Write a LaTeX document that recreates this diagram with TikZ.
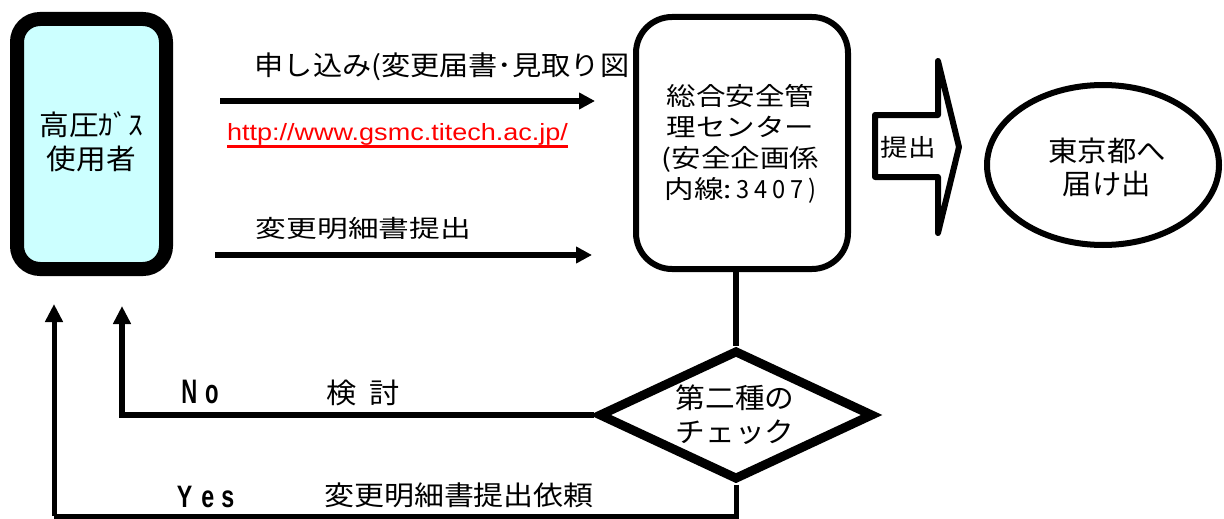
\documentclass[tikz,border=0pt]{standalone}
\usepackage{fontspec}
\setmainfont{Noto Sans CJK JP}
\newfontfamily\latinfont{Liberation Sans}
\usepackage{graphicx}
\usetikzlibrary{arrows.meta,shapes.geometric}
\definecolor{usercyan}{RGB}{204,255,255}
\newcommand\hsx[2]{\scalebox{#1}[1]{\begin{tabular}[t]{@{}c@{}}#2\end{tabular}}}
\newcommand\hs[2]{\scalebox{#1}[1]{#2}}
\newcommand\fs[2]{\fontsize{#1pt}{#2pt}\selectfont}
\newcommand\gk{\kern5pt}
\newsavebox\ulbox
\newcommand\myul[1]{\sbox\ulbox{#1}\rlap{\vrule height -4.6pt depth 8pt width \wd\ulbox}\usebox\ulbox}
\begin{document}
\begin{tikzpicture}[x=1pt,y=-1pt,
  txt/.style={inner sep=0pt, anchor=base},
  conn/.style={line width=6pt},
  tipR/.style={-{Triangle[length=16pt,width=16pt]}},
  tipU/.style={-{Triangle[length=18pt,width=17pt]}}]
\useasboundingbox (0,0) rectangle (1224,519);
% shapes
\node[draw, line width=14pt, rounded corners=23pt, fill=usercyan,
      minimum width=149pt, minimum height=250pt, inner sep=0pt] (user) at (91.5,144) {};
\node[draw, line width=6pt, rounded corners=36pt, fill=white,
      minimum width=212pt, minimum height=252pt, inner sep=0pt] (center) at (742,143) {};
\node[ellipse, draw, line width=6pt, minimum width=232pt, minimum height=160pt,
      inner sep=0pt] (tokyo) at (1103,165) {};
\node[diamond, draw, line width=9pt, minimum width=275pt, minimum height=130pt,
      inner sep=0pt] (check) at (736,415) {};
% block arrow
\draw[line width=6pt, line join=round, fill=white]
  (875,115) -- (938,115) -- (938,61) -- (959,147) -- (938,233) -- (938,177) -- (875,177) -- cycle;
% coordinates
\coordinate (a1s) at (220,101);
\coordinate (a1e) at (595,101);
\coordinate (a2s) at (215,255);
\coordinate (a2e) at (592,255);
\coordinate (noTop) at (122,306);
\coordinate (yesTop) at (54,304);
\coordinate (yesCorner) at (54,516);
% connectors
\draw[conn, tipR] (a1s) -- (a1e);
\draw[conn, tipR] (a2s) -- (a2e);
\draw[conn] (check.north |- center.south) -- (check.north);
\draw[conn, tipU] (check.west) -| (noTop);
\draw[line width=5pt] (check.south) |- (yesCorner);
\draw[line width=5pt, tipU] (yesCorner) -- (yesTop);
% texts
\node[txt, font=\fs{28}{34}] (userTxt) at (91.5,135.6) {\hsx{1.06}{高圧ｶﾞｽ\\使用者}};
\node[txt, font=\fs{25}{31}] (centerTxt) at (740.5,105.5) {\hsx{1.18}{総合安全管\\理センター\\(安全企画係\\内線:\hs{0.8}{\gk3\gk4\gk0\gk7\gk)}}};
\node[txt, font=\fs{27}{32}] (lbl1) at (442,75) {\hs{1.08}{申し込み(変更届書･見取り図}};
\node[txt, font=\latinfont\fs{23.5}{28}, text=red] (url) at (397.5,140) {\hs{1.15}{\myul{http://www.gsmc.titech.ac.jp/}}};
\node[txt, font=\fs{24}{28}] (lbl2) at (363.5,237) {\hs{1.28}{変更明細書提出}};
\node[txt, font=\fs{24}{28}] (submit) at (908,156) {\hs{1.15}{提出}};
\node[txt, font=\fs{28}{33}] (tokyoTxt) at (1107,161.6) {\hsx{1.05}{東京都へ\\届け出}};
\node[txt, font=\fs{28}{34}] (checkTxt) at (735,408.6) {\hsx{1.06}{第二種の\\チェック}};
\node[txt, font=\latinfont\bfseries\fs{34}{38}] (no) at (200,403) {\hs{0.65}{N\kern12pt o}};
\node[txt, font=\latinfont\bfseries\fs{31}{36}] (yes) at (205.5,507) {\hs{0.75}{Y\kern12pt e\kern9.5pt s}};
\node[txt, font=\fs{28}{34}] (kento) at (363.5,403) {\hs{1.08}{検\kern12pt 討}};
\node[txt, font=\fs{27}{32}] (lbl3) at (459,505) {\hs{1.11}{変更明細書提出依頼}};
\end{tikzpicture}
\end{document}
